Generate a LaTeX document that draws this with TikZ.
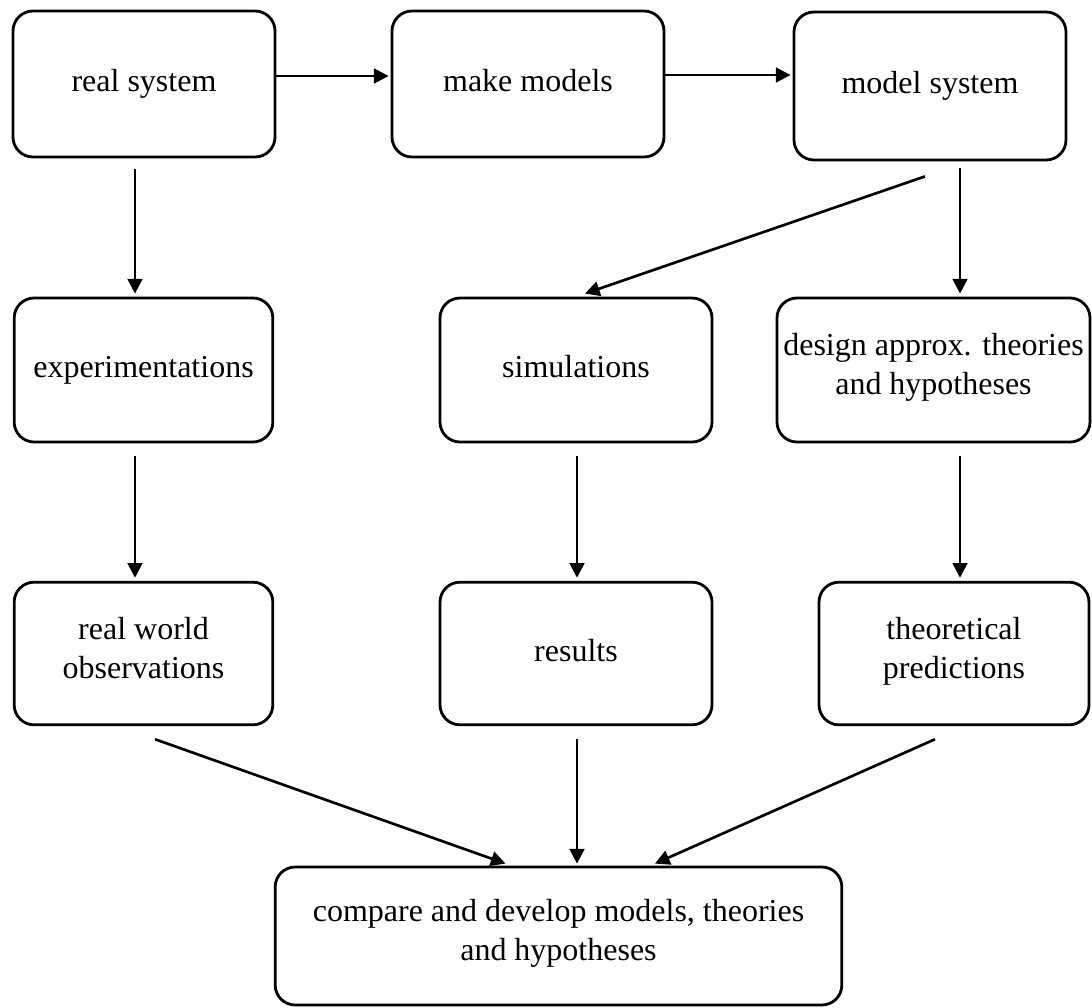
\documentclass[tikz,border=0pt]{standalone}
\usepackage{fontspec}
\setmainfont{Liberation Serif}
\usetikzlibrary{arrows.meta}
\definecolor{fc-ink}{HTML}{000000}

\begin{document}
\begin{tikzpicture}[x=0.75pt,y=-0.75pt,font=\fontsize{24}{29}\selectfont,
  box/.style={draw=fc-ink,line width=2.1pt,rounded corners=15pt,align=center,inner sep=0pt,
              execute at begin node=\strut,execute at end node=\strut},
  flow/.style={-{Triangle[length=11pt,width=11pt]},fc-ink,line width=2pt}]
\useasboundingbox (0,0) rectangle (1092,1007);

% ============ ROW 1: real system and its model ============
\node[box,minimum width=196.5pt,minimum height=109.5pt] (real)  at (144,84)  {real system};
\node[box,minimum width=204pt,minimum height=109.5pt]   (make)  at (528,84)  {make models};
\node[box,minimum width=204pt,minimum height=111pt]     (model) at (930,86)  {model system};

% ============ ROW 2: three ways of working ============
\node[box,minimum width=194pt,minimum height=108pt]    (exp)    at (143.5,370) {experimentations};
\node[box,minimum width=204pt,minimum height=108pt]    (sim)    at (576,370)   {simulations};
\node[box,minimum width=234.75pt,minimum height=108pt] (design) at (933.5,370) {design approx. theories\\and hypotheses};

% ============ ROW 3: what each gives ============
\node[box,minimum width=194pt,minimum height=107pt]   (rwo)  at (143.5,653.5) {real world\\observations};
\node[box,minimum width=204pt,minimum height=107pt]   (res)  at (576,653.5)   {results};
\node[box,minimum width=202.5pt,minimum height=107pt] (theo) at (954,653.5)   {theoretical\\predictions};

% ============ ROW 4: comparison ============
\node[box,minimum width=425pt,minimum height=103.5pt] (cmp) at (558.5,936)
     {compare and develop models, theories\\and hypotheses};

% connectors, top
\draw[flow,shorten >=1.5pt] ([shift={(0,-8)}]real.east) -- ([shift={(0,-8)}]make.west);
\draw[flow,shorten >=1.5pt] ([shift={(0,-9)}]make.east) -- ([shift={(0,-11)}]model.west);
\draw[flow] ([shift={(-9,11)}]real.south) -- ([shift={(-8.5,-3)}]exp.north);
\draw[flow] ([shift={(-5,15)}]model.south) -- ([shift={(9,-3)}]sim.north);
\draw[flow] ([shift={(30,7)}]model.south) -- ([shift={(26.5,-3)}]design.north);

% connectors, middle
\draw[flow] ([shift={(-8.5,13)}]exp.south) -- ([shift={(-8.5,-3)}]rwo.north);
\draw[flow] ([shift={(1,13)}]sim.south) -- ([shift={(1,-3)}]res.north);
\draw[flow] ([shift={(26.5,13)}]design.south) -- ([shift={(6,-3)}]theo.north);

% connectors, bottom
\draw[flow] ([shift={(11.5,13)}]rwo.south) -- ([shift={(-53,-2)}]cmp.north);
\draw[flow] ([shift={(1,13)}]res.south) -- ([shift={(18.5,-2)}]cmp.north);
\draw[flow] ([shift={(-19,13)}]theo.south) -- ([shift={(96.5,-2)}]cmp.north);

\end{tikzpicture}
\end{document}
